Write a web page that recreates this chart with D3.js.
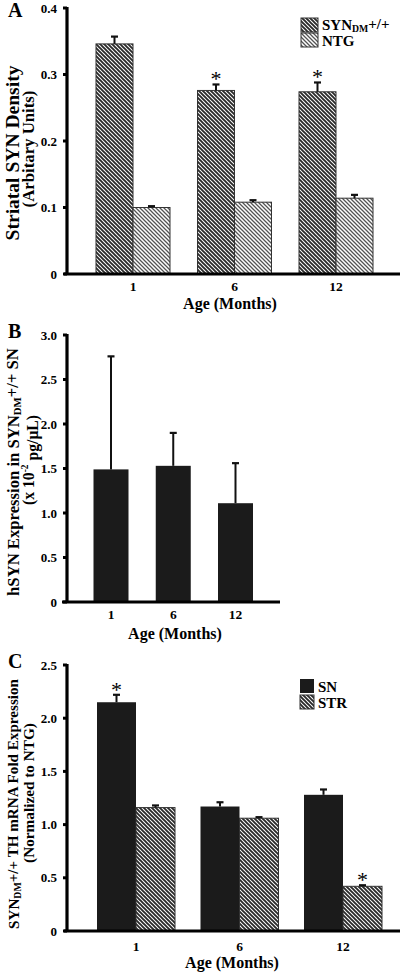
<!DOCTYPE html>
<html><head><meta charset="utf-8">
<script src="https://cdn.jsdelivr.net/npm/d3@7/dist/d3.min.js"></script>
<style>
body{margin:0;background:#fff;}
svg{display:block;font-family:"Liberation Serif","DejaVu Serif",serif;font-weight:bold;}
</style></head><body>
<svg id="chart" width="400" height="973"></svg>
<script>
// ---------- DATA ----------
const ages = ["1", "6", "12"];

// Panel A: Striatal SYN density
const seriesA = ["SYN", "NTG"];
const synDensity = [0.346, 0.276, 0.274];
const synDensityErr = [0.357, 0.285, 0.288];
const ntgDensity = [0.100, 0.108, 0.114];
const ntgDensityErr = [0.102, 0.111, 0.119];
const starA = [false, true, true];
const ticksA = [0, 0.1, 0.2, 0.3, 0.4];

// Panel B: hSYN expression
const hsynExpr = [1.49, 1.53, 1.11];
const hsynExprErr = [2.76, 1.90, 1.56];
const ticksB = [0, 0.5, 1.0, 1.5, 2.0, 2.5, 3.0];

// Panel C: TH mRNA fold expression
const seriesC = ["SN", "STR"];
const snFold = [2.15, 1.17, 1.28];
const snFoldErr = [2.22, 1.21, 1.33];
const strFold = [1.16, 1.06, 0.42];
const strFoldErr = [1.18, 1.07, 0.43];
const starSN = [true, false, false];
const starSTR = [false, false, true];
const ticksC = [0, 0.5, 1.0, 1.5, 2.0, 2.5];

// ---------- DRAW ----------
const svg = d3.select("#chart");
const defs = svg.append("defs");
function hatch(id, color, w){
  const p = defs.append("pattern").attr("id", id).attr("patternUnits","userSpaceOnUse")
    .attr("width",4).attr("height",4);
  p.append("rect").attr("width",4).attr("height",4).attr("fill","#fff");
  p.append("path").attr("d","M-1,-1L5,5M3,-1L5,1M-1,3L1,5")
    .attr("stroke",color).attr("stroke-width",w);
}
hatch("hDark","#2a2a2a",1.9);
hatch("hLight","#555",1.3);

function axes(g, y, ticks, x0, x1, fmtT){
  g.append("line").attr("x1",67).attr("x2",67)
    .attr("y1",y(ticks[ticks.length-1])-1).attr("y2",y(0))
    .attr("stroke","#000").attr("stroke-width",3.2);
  const tg = g.selectAll(".yt").data(ticks).enter().append("g");
  tg.append("line").attr("x1",63).attr("x2",67).attr("y1",d=>y(d)).attr("y2",d=>y(d))
    .attr("stroke","#000").attr("stroke-width",3);
  tg.append("text").attr("x",57).attr("y",d=>y(d)+4.5).attr("text-anchor","end")
    .attr("font-size",13).text(fmtT);
  g.append("line").attr("x1",x0).attr("x2",x1).attr("y1",y(0)).attr("y2",y(0))
    .attr("stroke","#000").attr("stroke-width",3.2);
}
function errBar(g, cx, y0, y1){
  g.append("line").attr("x1",cx).attr("x2",cx).attr("y1",y0).attr("y2",y1)
    .attr("stroke","#111").attr("stroke-width",2);
  g.append("line").attr("x1",cx-3.5).attr("x2",cx+3.5).attr("y1",y1).attr("y2",y1)
    .attr("stroke","#111").attr("stroke-width",2.2);
}
function star(g, cx, yTop){
  g.append("text").attr("x",cx).attr("y",yTop+2).attr("text-anchor","middle")
    .attr("font-weight","normal").attr("font-size",22).text("*");
}
// rotated label line fitted to a target length
function yLine(g, bx, cy, target, builder){
  const t = g.append("text").attr("transform",`translate(${bx},${cy}) rotate(-90)`)
    .attr("text-anchor","middle").attr("font-size",16);
  builder(t);
  const len = t.node().getComputedTextLength();
  if (len > 0) t.attr("font-size", 16*target/len);
}
function panelLetter(g, txt, y){
  g.append("text").attr("x",8).attr("y",y).attr("font-size",20).text(txt);
}
function xLabels(g, x, yBase, yLab, cxLab){
  g.selectAll(".xt").data(ages).enter().append("text")
    .attr("x",d=>x(d)).attr("y",yBase).attr("text-anchor","middle")
    .attr("font-size",13.5).text(d=>d);
  g.append("text").attr("x",cxLab).attr("y",yLab).attr("text-anchor","middle")
    .attr("font-size",16).text("Age (Months)");
}
const f1 = d => d===0 ? "0" : d3.format(".1f")(d);
function synSub(t, rest){
  t.append("tspan").text("SYN");
  t.append("tspan").attr("font-size","0.65em").attr("dy","0.2em").text("DM");
  t.append("tspan").attr("dy","-0.2em").text(rest);
}

// ===== Panel A =====
{
  const g = svg.append("g");
  const y = d3.scaleLinear().domain([0,0.4]).range([274,8]);
  const x = d3.scalePoint().domain(ages).range([133,336]);
  const xs = d3.scaleBand().domain(seriesA).range([-37,37]);
  const vals = {SYN: synDensity, NTG: ntgDensity};
  const errs = {SYN: synDensityErr, NTG: ntgDensityErr};
  const fills = {SYN: "url(#hDark)", NTG: "url(#hLight)"};
  seriesA.forEach(s => {
    ages.forEach((a,i) => {
      const bx = x(a)+xs(s);
      g.append("rect").attr("x",bx).attr("y",y(vals[s][i])).attr("width",xs.bandwidth())
        .attr("height",y(0)-y(vals[s][i])).attr("fill",fills[s])
        .attr("stroke","#333").attr("stroke-width",1);
      errBar(g, bx+xs.bandwidth()/2, y(vals[s][i]), y(errs[s][i]));
      if (s==="SYN" && starA[i]) star(g, bx+xs.bandwidth()/2, y(errs[s][i]));
    });
  });
  axes(g, y, ticksA, 64, 400, f1);
  xLabels(g, x, 291, 309, 230);
  panelLetter(g, "A", 17);
  yLine(g, 19, 153, 175, t => t.text("Striatal SYN Density"));
  yLine(g, 34, 149, 117, t => t.text("(Arbitary Units)"));
  const lg = g.append("g");
  lg.append("rect").attr("x",301).attr("y",18).attr("width",17).attr("height",14)
    .attr("fill","url(#hDark)").attr("stroke","#333");
  lg.append("rect").attr("x",301).attr("y",33).attr("width",17).attr("height",14)
    .attr("fill","url(#hLight)").attr("stroke","#333");
  const lt = lg.append("text").attr("x",322).attr("y",30).attr("font-size",15);
  synSub(lt, "+/+");
  lg.append("text").attr("x",322).attr("y",46).attr("font-size",15).text("NTG");
}

// ===== Panel B =====
{
  const g = svg.append("g");
  const y = d3.scaleLinear().domain([0,3]).range([602,335]);
  const x = d3.scalePoint().domain(ages).range([111,235.5]);
  const bw = 35;
  ages.forEach((a,i) => {
    g.append("rect").attr("x",x(a)-bw/2).attr("y",y(hsynExpr[i])).attr("width",bw)
      .attr("height",y(0)-y(hsynExpr[i])).attr("fill","#1b1b1b");
    errBar(g, x(a), y(hsynExpr[i]), y(hsynExprErr[i]));
  });
  axes(g, y, ticksB, 62, 280, f1);
  xLabels(g, x, 619, 639, 175);
  panelLetter(g, "B", 338);
  yLine(g, 19, 472, 248, t => {
    t.append("tspan").text("hSYN Expression in ");
    synSub(t, "+/+ SN");
  });
  yLine(g, 34, 460, 90, t => {
    t.append("tspan").text("(x 10");
    t.append("tspan").attr("font-size","0.6em").attr("dy","-0.6em").text("-2");
    t.append("tspan").attr("dy","0.6em").text(" pg/\u03bcL)");
  });
}

// ===== Panel C =====
{
  const g = svg.append("g");
  const y = d3.scaleLinear().domain([0,2.5]).range([931,665]);
  const x = d3.scalePoint().domain(ages).range([136,343]);
  const xs = d3.scaleBand().domain(seriesC).range([-39,39]);
  const vals = {SN: snFold, STR: strFold};
  const errs = {SN: snFoldErr, STR: strFoldErr};
  const stars = {SN: starSN, STR: starSTR};
  seriesC.forEach(s => {
    ages.forEach((a,i) => {
      const bx = x(a)+xs(s);
      const r = g.append("rect").attr("x",bx).attr("y",y(vals[s][i])).attr("width",xs.bandwidth())
        .attr("height",y(0)-y(vals[s][i]));
      if (s==="SN") r.attr("fill","#1b1b1b");
      else r.attr("fill","url(#hDark)").attr("stroke","#333").attr("stroke-width",1);
      errBar(g, bx+xs.bandwidth()/2, y(vals[s][i]), y(errs[s][i]));
      if (stars[s][i]) star(g, bx+xs.bandwidth()/2, y(errs[s][i]));
    });
  });
  axes(g, y, ticksC, 64, 400, f1);
  xLabels(g, x, 951, 968, 232);
  panelLetter(g, "C", 668);
  yLine(g, 19, 804, 250, t => synSub(t, "+/+ TH mRNA Fold Expression"));
  yLine(g, 34, 793, 140, t => t.text("(Normalized to NTG)"));
  const lg = g.append("g");
  lg.append("rect").attr("x",300).attr("y",679).attr("width",14).attr("height",14).attr("fill","#1b1b1b");
  lg.append("rect").attr("x",300).attr("y",695).attr("width",14).attr("height",14)
    .attr("fill","url(#hDark)").attr("stroke","#333");
  lg.append("text").attr("x",318).attr("y",692).attr("font-size",15).text("SN");
  lg.append("text").attr("x",318).attr("y",708).attr("font-size",15).text("STR");
}
</script></body></html>
